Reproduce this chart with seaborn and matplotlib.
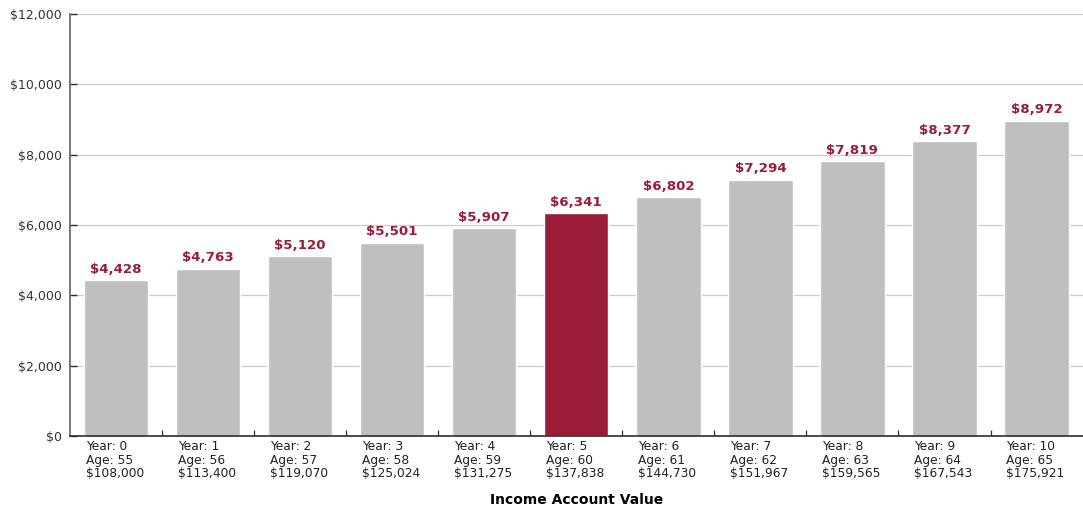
import numpy as np
import pandas as pd
import matplotlib.pyplot as plt
import seaborn as sns

years = [0, 1, 2, 3, 4, 5, 6, 7, 8, 9, 10]
ages = [55, 56, 57, 58, 59, 60, 61, 62, 63, 64, 65]
account_values = [108000, 113400, 119070, 125024, 131275, 137838,
                  144730, 151967, 159565, 167543, 175921]
income = [4428, 4763, 5120, 5501, 5907, 6341, 6802, 7294, 7819, 8377, 8972]
highlight_year = 5

sns.set_theme(style='white')
plt.rcParams['font.family'] = ['DejaVu Sans']

df = pd.DataFrame({
    'label': [f'Year: {y}\nAge: {a}\n${v:,}' for y, a, v in zip(years, ages, account_values)],
    'income': income,
    'group': ['hi' if y == highlight_year else 'base' for y in years],
})

fig = plt.figure(figsize=(10.83, 5.13), dpi=100)
ax = fig.add_axes([0.0646, 0.150, 0.935, 0.8227])

sns.barplot(data=df, x='label', y='income', hue='group',
            palette={'base': '#bfbfbf', 'hi': '#9b1c37'},
            width=0.7, dodge=False, legend=False, ax=ax, saturation=1)

for cont in ax.containers:
    ax.bar_label(cont, labels=[f'${v:,.0f}' for v in cont.datavalues],
                 padding=3, color='#9b1c37', fontsize=9.6, fontweight='bold')

ax.set_ylim(0, 12000)
ax.set_xlim(-0.5, len(years) - 0.5)
ax.set_yticks(np.arange(0, 12001, 2000))
ax.set_yticklabels([f'${v:,}' for v in range(0, 12001, 2000)], fontsize=9, color='#333333')
ax.yaxis.grid(True, color='#cccccc', linewidth=0.9)
ax.set_axisbelow(True)

pos = np.arange(len(years))
ax.set_xticks(pos - 0.33)
ax.set_xticklabels(df['label'], ha='left', fontsize=8.8, color='#222222', linespacing=1.05)
ax.set_xticks(pos[:-1] + 0.5, minor=True)
ax.tick_params(axis='x', which='major', length=0, pad=3, bottom=True)
ax.tick_params(axis='x', which='minor', length=4, direction='in', color='#333333',
               width=0.9, bottom=True)
ax.tick_params(axis='y', length=5, direction='in', color='#333333', width=1, pad=6, left=True)

for s in ['top', 'right']:
    ax.spines[s].set_visible(False)
ax.spines['left'].set_color('#666666')
ax.spines['bottom'].set_color('#333333')

ax.set_ylabel('')
ax.set_xlabel('Income Account Value', fontsize=10, fontweight='bold', color='black', labelpad=9)

fig.savefig('out.png', dpi=100)
